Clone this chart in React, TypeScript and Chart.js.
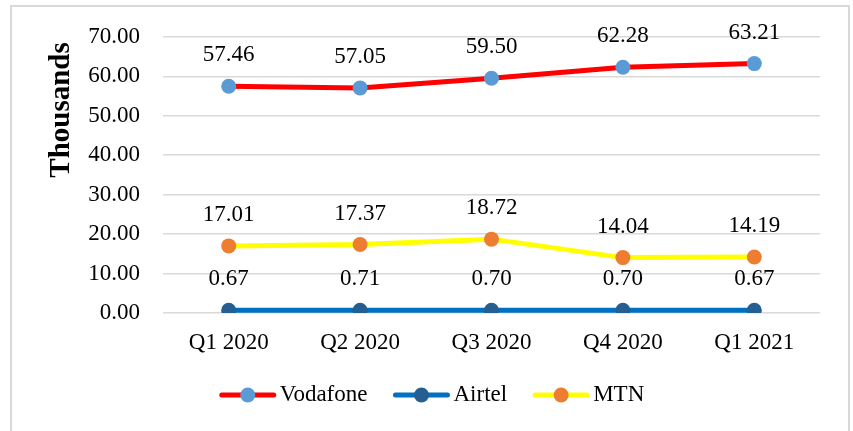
import React, { useEffect, useRef } from "react";
import { Chart, registerables } from "chart.js";

Chart.register(...registerables);

const categories = ["Q1 2020", "Q2 2020", "Q3 2020", "Q4 2020", "Q1 2021"];
const seriesNames = ["Vodafone", "Airtel", "MTN"];
const vodafone = [57.46, 57.05, 59.5, 62.28, 63.21];
const airtel = [0.67, 0.71, 0.7, 0.7, 0.67];
const mtn = [17.01, 17.37, 18.72, 14.04, 14.19];
const yMin = 0;
const yMax = 70;
const yStep = 10;
const yTitle = "Thousands";

const lineColors = ["#ff0000", "#0070c0", "#ffff00"];
const pointColors = ["#5b9bd5", "#255e91", "#ed7d31"];

const FONT = "'Liberation Serif', 'Times New Roman', serif";

const labelPlugin = {
  id: "valueLabels",
  afterDatasetsDraw(chart: any) {
    const ctx = chart.ctx;
    ctx.save();
    ctx.font = `23px ${FONT}`;
    ctx.fillStyle = "#000";
    ctx.textAlign = "center";
    ctx.textBaseline = "middle";
    chart.data.datasets.forEach((ds: any, i: number) => {
      const meta = chart.getDatasetMeta(i);
      meta.data.forEach((pt: any, j: number) => {
        ctx.fillText(Number(ds.data[j]).toFixed(2), pt.x, pt.y - 31);
      });
    });
    ctx.restore();
  },
};

const titleLegendPlugin = {
  id: "titleLegend",
  afterDraw(chart: any) {
    const ctx = chart.ctx;
    ctx.save();
    ctx.font = `bold 29px ${FONT}`;
    ctx.fillStyle = "#000";
    ctx.textAlign = "center";
    ctx.textBaseline = "middle";
    ctx.translate(62, 110);
    ctx.rotate(-Math.PI / 2);
    ctx.fillText(yTitle, 0, 0);
    ctx.restore();

    ctx.save();
    ctx.font = `23px ${FONT}`;
    const lineW = 56;
    const gapText = 4;
    const gapItem = 26;
    const cy = 395;
    const widths = chart.data.datasets.map(
      (ds: any) => lineW + gapText + ctx.measureText(ds.label).width
    );
    const total =
      widths.reduce((a: number, b: number) => a + b, 0) +
      gapItem * (widths.length - 1);
    let x = 432 - total / 2;
    chart.data.datasets.forEach((ds: any, i: number) => {
      ctx.strokeStyle = ds.borderColor;
      ctx.lineWidth = 5;
      ctx.lineCap = "round";
      ctx.beginPath();
      ctx.moveTo(x + 2, cy);
      ctx.lineTo(x + lineW - 2, cy);
      ctx.stroke();
      ctx.fillStyle = ds.pointBackgroundColor;
      ctx.beginPath();
      ctx.arc(x + lineW / 2, cy, 7.5, 0, Math.PI * 2);
      ctx.fill();
      ctx.fillStyle = "#000";
      ctx.textAlign = "left";
      ctx.textBaseline = "middle";
      ctx.fillText(ds.label, x + lineW + gapText, cy);
      x += widths[i] + gapItem;
    });
    ctx.restore();
  },
};

export default function App() {
  const ref = useRef<HTMLCanvasElement>(null);
  useEffect(() => {
    document.body.style.margin = "0";
    const allData = [vodafone, airtel, mtn];
    const chart = new Chart(ref.current!, {
      type: "line",
      data: {
        labels: categories,
        datasets: seriesNames.map((name, i) => ({
          label: name,
          data: allData[i],
          borderColor: lineColors[i],
          backgroundColor: pointColors[i],
          pointBackgroundColor: pointColors[i],
          pointBorderWidth: 0,
          pointRadius: 7.5,
          borderWidth: 5,
          tension: 0,
          fill: false,
        })),
      },
      options: {
        responsive: false,
        animation: false,
        layout: { padding: { top: 33, right: 33, left: 0, bottom: 0 } },
        plugins: {
          legend: { display: false },
          tooltip: { enabled: false },
        },
        scales: {
          x: {
            offset: true,
            grid: { display: false, drawTicks: false },
            border: { display: false },
            ticks: {
              padding: 16,
              color: "#000",
              font: { family: FONT, size: 23 },
              maxRotation: 0,
            },
            afterFit: (s: any) => {
              s.height = 118;
            },
          },
          y: {
            min: yMin,
            max: yMax,
            grid: { color: "#d9d9d9", lineWidth: 1.5, drawTicks: false },
            border: { display: false },
            ticks: {
              stepSize: yStep,
              padding: 23,
              color: "#000",
              font: { family: FONT, size: 23 },
              callback: (v: any) => Number(v).toFixed(2),
            },
            afterFit: (s: any) => {
              s.width = 163;
            },
          },
        },
      },
      plugins: [labelPlugin, titleLegendPlugin],
    });
    return () => chart.destroy();
  }, []);
  return (
    <div style={{ position: "fixed", left: 0, top: 0, width: 853, height: 431, background: "#fff" }}>
      <canvas ref={ref} width={853} height={431} style={{ position: "absolute", left: 0, top: 0 }} />
      <div
        style={{
          position: "absolute",
          left: 10,
          top: 5,
          width: 836,
          height: 440,
          border: "2px solid #d9d9d9",
          pointerEvents: "none",
        }}
      />
    </div>
  );
}
